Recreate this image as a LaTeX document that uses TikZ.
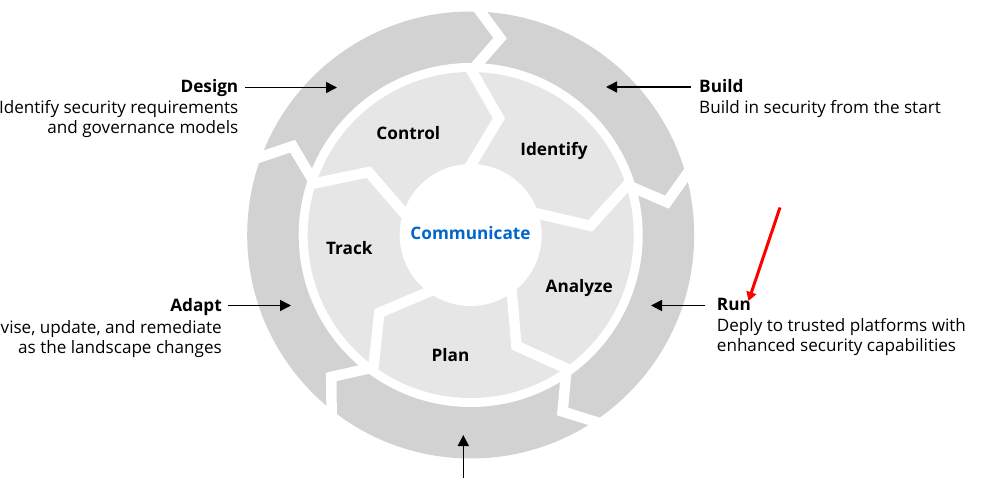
\documentclass[tikz,border=0pt]{standalone}
\usepackage{fontspec}
\setmainfont{Open Sans}
\usetikzlibrary{arrows.meta,calc}
\definecolor{ringout}{HTML}{D2D2D2}
\definecolor{ringin}{HTML}{E6E6E6}
\definecolor{commblue}{HTML}{0066CC}
\definecolor{annred}{HTML}{FF0000}
\begin{document}
\begin{tikzpicture}[x=1pt,y=-1pt,
  lbl/.style={inner sep=0pt, font=\fontsize{17.1}{20}\selectfont},
  lblb/.style={inner sep=0pt, font=\fontsize{17.2}{20}\selectfont\bfseries},
  seglbl/.style={inner sep=0pt, anchor=base, font=\fontsize{17.2}{20}\selectfont\bfseries},
  arr/.style={line width=1.6pt, -{Triangle[length=11pt,width=11pt]}},
  redarr/.style={annred, line width=3pt, -{Triangle[length=9pt,width=10pt]}},
  chev/.style={white, line width=10.5pt, line join=miter, miter limit=20}]
\useasboundingbox (0,0) rectangle (999,478);
\fill[white] (0,0) rectangle (999,478);

\begin{scope}[shift={(470.7,235)}, y=1pt]
  \fill[ringout] (0,0) circle (223.5);
  \fill[white] (0,0) circle (172);
  \foreach \k in {0,...,4}{
    \pgfmathsetmacro\ta{87.5-72*\k}
    \pgfmathsetmacro\tb{\ta-6}
    \draw[chev] ($(\ta:172)!-1!(\tb:199)$) -- (\tb:199) -- ($(\ta:223.5)!-0.6!(\tb:199)$);
  }
  \fill[ringin] (0,0) circle (163);
  \foreach \k in {0,...,4}{
    \pgfmathsetmacro\ta{89.4-72*\k}
    \pgfmathsetmacro\tb{\ta-13}
    \draw[chev] ($(\ta:71)!-0.3!(\tb:120)$) -- (\tb:120) -- ($(\ta:163)!-0.09!(\tb:120)$);
  }
  \fill[white] (0,0) circle (71);
\end{scope}

% segment labels
\node[seglbl] (control) at (408.3,139.3) {Control};
\node[seglbl] (identify) at (554,155.7) {Identify};
\node[seglbl, text=commblue] (communicate) at (470.5,239.3) {Communicate};
\node[seglbl] (track) at (349.3,255) {Track};
\node[seglbl] (analyze) at (579.2,292.7) {Analyze};
\node[seglbl] (plan) at (450.5,361.7) {Plan};

% Design
\node[lblb, anchor=base east] (design) at (238.5,92.3) {Design};
\node[lbl, anchor=base east] (design1) at (238.5,113.3) {Identify security requirements};
\node[lbl, anchor=base east] (design2) at (238.5,134) {and governance models};
\coordinate (dS) at (245,87.5);
\coordinate (dE) at (337,87.5);
\draw[arr] (dS) -- (dE);

% Build
\node[lblb, anchor=base west] (build) at (699,92.3) {Build};
\node[lbl, anchor=base west] (build1) at (699,113.3) {Build in security from the start};
\coordinate (bS) at (690.5,87);
\coordinate (bE) at (606,87);
\draw[arr] (bS) -- (bE);

% Adapt
\node[lblb, anchor=base east] (adapt) at (222,311.7) {Adapt};
\node[lbl, anchor=base east] (adapt1) at (222,333.3) {Revise, update, and remediate};
\node[lbl, anchor=base east] (adapt2) at (222,354) {as the landscape changes};
\coordinate (aS) at (228,305.5);
\coordinate (aE) at (291,305.5);
\draw[arr] (aS) -- (aE);

% Run
\node[lblb, anchor=base west] (run) at (716.7,310.7) {Run};
\node[lbl, anchor=base west] (run1) at (716.7,331.7) {Deply to trusted platforms with};
\node[lbl, anchor=base west] (run2) at (716.7,351.7) {enhanced security capabilities};
\coordinate (rS) at (705,305.5);
\coordinate (rE) at (651,305.5);
\draw[arr] (rS) -- (rE);

% bottom arrow
\coordinate (btS) at (463.3,482);
\coordinate (btE) at (463.3,435);
\draw[arr] (btS) -- (btE);

% red annotation arrow
\coordinate (redS) at (780,207.5);
\coordinate (redE) at (748.5,301);
\draw[redarr] (redS) -- (redE);
\end{tikzpicture}
\end{document}
